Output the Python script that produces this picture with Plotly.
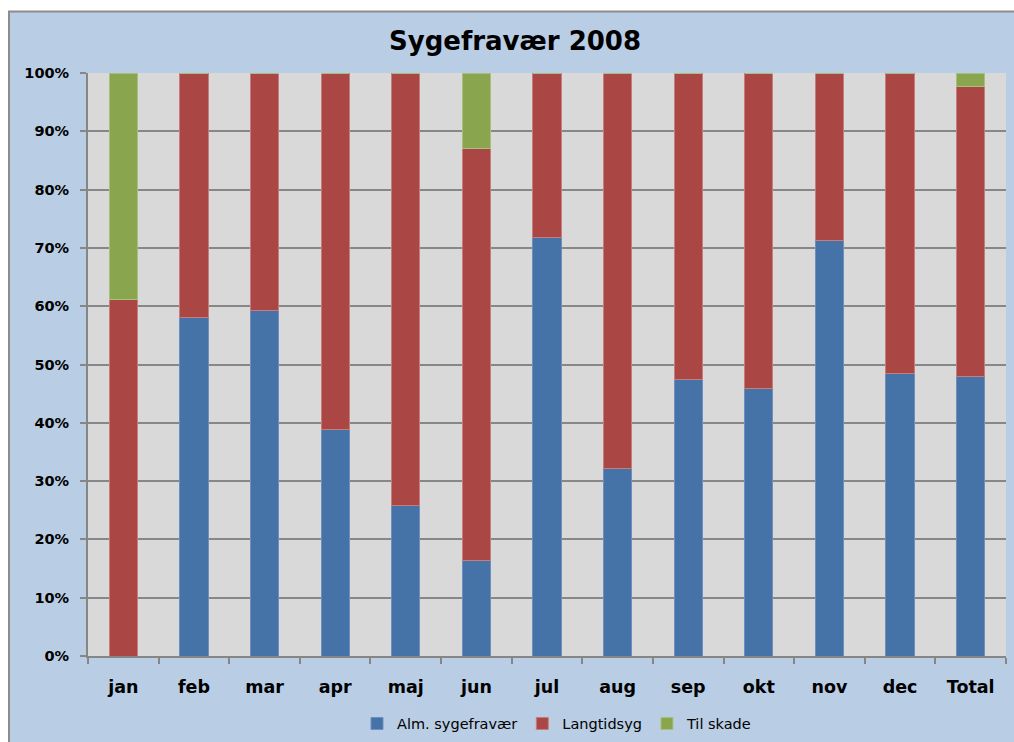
import plotly.graph_objects as go

categories = ["jan", "feb", "mar", "apr", "maj", "jun", "jul", "aug", "sep", "okt", "nov", "dec", "Total"]
alm = [0.0, 58.0, 59.2, 38.8, 25.9, 16.3, 71.7, 32.2, 47.5, 45.8, 71.2, 48.4, 48.0]
langtid = [61.1, 42.0, 40.8, 61.2, 74.1, 70.8, 28.3, 67.8, 52.5, 54.2, 28.8, 51.6, 49.6]
skade = [38.9, 0.0, 0.0, 0.0, 0.0, 12.9, 0.0, 0.0, 0.0, 0.0, 0.0, 0.0, 2.4]
y_ticks = [0, 10, 20, 30, 40, 50, 60, 70, 80, 90, 100]

series = [
    ("Alm. sygefravær", alm, "#4572A7", "#6f8fbf"),
    ("Langtidsyg", langtid, "#AA4643", "#c67d7b"),
    ("Til skade", skade, "#89A54E", "#a9bf7f"),
]

fig = go.Figure()
for name, vals, col, edge in series:
    fig.add_trace(go.Bar(
        x=categories, y=vals, name=name,
        marker=dict(color=col, line=dict(color=edge, width=1)),
    ))

FONT = "DejaVu Sans"
W, H = 1014, 747
L, R, T, B = 88, 8, 73, 87
pw, ph = W - L - R, H - T - B

def px_x(x):
    return (x - L) / pw

def px_y(y):
    return (H - B - y) / ph

fig.update_layout(
    width=W, height=H,
    barmode="stack", bargap=0.6,
    paper_bgcolor="#B9CDE5", plot_bgcolor="#D9D9D9",
    margin=dict(l=L, r=R, t=T, b=B),
    font=dict(family=FONT, color="#000000"),
    title=dict(text="<b>Sygefravær 2008</b>", x=515 / W, xref="container", xanchor="center",
               y=1 - 40.5 / H, yref="container", yanchor="middle",
               font=dict(family=FONT, size=26, color="#000000")),
    showlegend=True,
    legend=dict(orientation="h", x=px_x(557), xanchor="center", y=px_y(728), yanchor="middle",
                font=dict(family=FONT, size=14.5, color="#000000"),
                traceorder="normal", itemwidth=30, bgcolor="rgba(0,0,0,0)"),
    xaxis=dict(
        showgrid=False, showline=True, linecolor="#868686", linewidth=2,
        ticks="outside", tickson="boundaries", ticklen=6, tickcolor="#868686", tickwidth=2,
        tickfont=dict(family=FONT, size=17.5, color="#000000"),
        ticklabelstandoff=14,
    ),
    yaxis=dict(
        range=[0, 100], tickvals=y_ticks, ticktext=[f"<b>{v}%</b>" for v in y_ticks],
        showgrid=True, gridcolor="#878787", gridwidth=2,
        showline=True, linecolor="#868686", linewidth=2,
        ticks="outside", ticklen=6, tickcolor="#868686", tickwidth=2,
        tickfont=dict(family=FONT, size=14.5, color="#000000"),
        ticklabelstandoff=8,
        zeroline=False,
    ),
    shapes=[
        dict(type="rect", xref="paper", yref="paper", x0=-0.2, x1=1.1, y0=px_y(11), y1=1.3,
             fillcolor="white", line=dict(width=0), layer="below"),
        dict(type="rect", xref="paper", yref="paper", x0=-0.2, x1=px_x(8), y0=-0.3, y1=1.3,
             fillcolor="white", line=dict(width=0), layer="below"),
        dict(type="line", xref="paper", yref="paper", x0=px_x(8), x1=1.1, y0=px_y(11), y1=px_y(11),
             line=dict(color="#8C8C8C", width=2), layer="below"),
        dict(type="line", xref="paper", yref="paper", x0=px_x(9), x1=px_x(9), y0=-0.3, y1=px_y(11),
             line=dict(color="#8C8C8C", width=2), layer="below"),
    ],
)
fig.update_xaxes(tickvals=categories, ticktext=[f"<b>{c}</b>" for c in categories])

fig.write_html(
    "out.html",
    config={"displayModeBar": False},
    post_script="document.body.style.margin='0';document.body.style.overflow='hidden';",
)
